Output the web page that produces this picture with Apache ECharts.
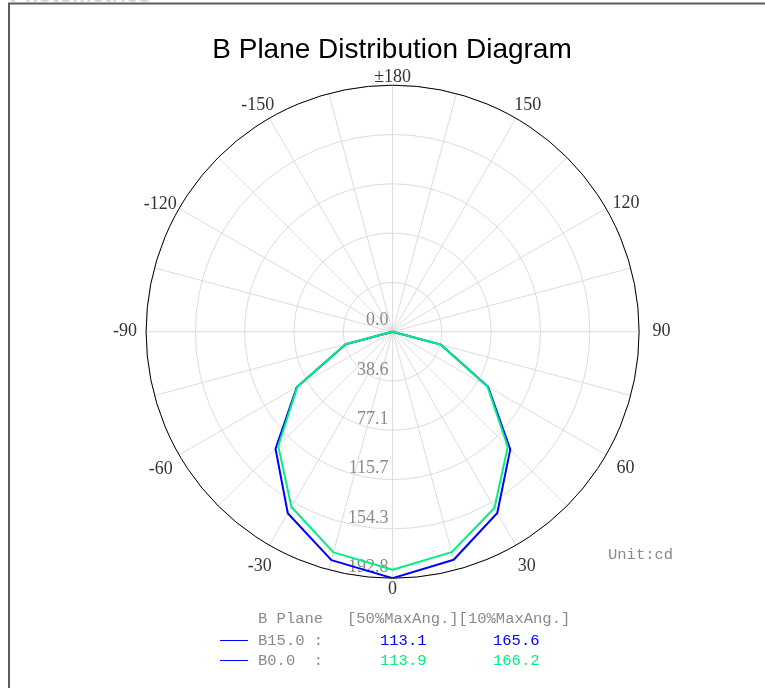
<!DOCTYPE html>
<html><head><meta charset="utf-8">
<script src="https://cdn.jsdelivr.net/npm/echarts@6/dist/echarts.min.js"></script>
<style>html,body{margin:0;padding:0;background:#fff;overflow:hidden}#c{width:765px;height:688px}</style>
</head><body><div id="c"></div>
<script>
// ---- data ----
const angles = [-90, -75, -60, -45, -30, -15, 0, 15, 30, 45, 60, 75, 90];
const seriesB15 = [0, 38.0, 86.4, 129.5, 164.0, 185.0, 192.8, 184.7, 163.8, 130.2, 86.2, 39.1, 0];
const seriesB0 = [0, 38.2, 86.0, 126.5, 158.3, 178.7, 186.2, 178.5, 159.3, 127.4, 85.7, 38.8, 0];
const seriesNames = ['B15.0', 'B0.0'];
const radiusTickLabels = ['0.0', '38.6', '77.1', '115.7', '154.3', '192.8'];
const radiusMax = 192.83;
const radiusStep = 38.566;
const angleTickValues = [0, 30, 60, 90, 120, 150, 180, 210, 240, 270, 300, 330];
const angleTickLabels = ['0', '30', '60', '90', '120', '150', '±180', '-150', '-120', '-90', '-60', '-30'];
const titleText = 'B Plane Distribution Diagram';
const unitText = 'Unit:cd';
const legendHeader = ['B Plane', '[50%MaxAng.][10%MaxAng.]'];
const legendNames = ['B15.0 :', 'B0.0  :'];
const legend50 = ['113.1', '113.9'];
const legend10 = ['165.6', '166.2'];

// ---- styles ----
const BLUE = '#0000ff';
const GREEN = '#00f080';
const GRID = '#dcdcdc';
const GRAYTXT = '#8a8a8a';
const MONO = 'Liberation Mono';
const SERIF = 'Liberation Serif';
// label nudges (padding [top, right, bottom, left]) for angle tick labels, same order as angleTickValues
const anglePads = [
  [24.6, 0, 0, 0], [42, 0, 0, 7], [18, 0, 0, 19], [0, 0, 0, 23.5], [0, 0, 3, 15], [0, 0, 24.8, 3.5],
  [0, 0, 17.4, 0], [0, 0, 24.8, 0], [0, 11, 1, 0], [0, 19, 0, 0], [20, 15, 0, 0], [42, 2.5, 0, 0]
];

const toAxisAngle = a => (a < 0 ? a + 360 : a);
const mk = vals => angles.map((a, i) => [vals[i], toAxisAngle(a)]);

const angleRich = {};
anglePads.forEach((p, i) => {
  angleRich['p' + i] = { padding: p, fontFamily: SERIF, fontSize: 18, color: '#333', lineHeight: 18 };
});

const chart = echarts.init(document.getElementById('c'));

const legendColors = [BLUE, GREEN];
const rowsY = [640.5, 660.5];
const graphics = [
  { type: 'rect', shape: { x: 9, y: 3.5, width: 900, height: 900 }, style: { fill: 'none', stroke: '#5c5c5c', lineWidth: 2 }, silent: true },
  { type: 'text', x: 10, y: 7, style: { text: 'Photometrics', font: 'bold 22px "Liberation Sans"', fill: '#d8d8d8', verticalAlign: 'bottom' } },
  { type: 'text', x: 608, y: 555, style: { text: unitText, font: '15.5px "' + MONO + '"', fill: GRAYTXT, verticalAlign: 'middle' } },
  { type: 'text', x: 258, y: 619, style: { text: legendHeader[0], font: '15.5px "' + MONO + '"', fill: GRAYTXT, verticalAlign: 'middle' } },
  { type: 'text', x: 347, y: 619, style: { text: legendHeader[1], font: '15.5px "' + MONO + '"', fill: GRAYTXT, verticalAlign: 'middle' } }
];
legendNames.forEach((n, i) => {
  graphics.push({ type: 'line', shape: { x1: 220, y1: rowsY[i], x2: 248, y2: rowsY[i] }, style: { stroke: BLUE, lineWidth: 1 } });
  graphics.push({ type: 'text', x: 258, y: rowsY[i], style: { text: n, font: '15.5px "' + MONO + '"', fill: GRAYTXT, verticalAlign: 'middle' } });
  graphics.push({ type: 'text', x: 380, y: rowsY[i], style: { text: legend50[i], font: '15.5px "' + MONO + '"', fill: legendColors[i], verticalAlign: 'middle' } });
  graphics.push({ type: 'text', x: 493, y: rowsY[i], style: { text: legend10[i], font: '15.5px "' + MONO + '"', fill: legendColors[i], verticalAlign: 'middle' } });
});

chart.setOption({
  animation: false,
  backgroundColor: '#fff',
  title: {
    text: titleText, left: 387, top: 31, textAlign: 'center',
    textStyle: { fontFamily: 'Liberation Sans', fontSize: 28, fontWeight: 'normal', color: '#000' }
  },
  polar: { center: [392.6, 331.7], radius: 246.5 },
  angleAxis: {
    type: 'value', min: 0, max: 360, interval: 15, startAngle: 270, clockwise: false,
    axisLine: { show: true, lineStyle: { color: '#000', width: 1 } },
    axisTick: { show: false },
    splitLine: { show: true, lineStyle: { color: GRID, width: 1 } },
    axisLabel: {
      margin: -10, fontFamily: SERIF, fontSize: 18, color: '#333', rich: angleRich,
      formatter: v => { const k = angleTickValues.indexOf(Math.round(v)); return k >= 0 ? '{p' + k + '|' + angleTickLabels[k] + '}' : ''; }
    }
  },
  radiusAxis: {
    type: 'value', min: 0, max: radiusMax, interval: radiusStep,
    axisLine: { show: false }, axisTick: { show: false },
    splitLine: { show: true, lineStyle: { color: GRID, width: 1 } },
    axisLabel: {
      fontFamily: SERIF, fontSize: 18, color: GRAYTXT, margin: -4,
      align: 'right', verticalAlign: 'bottom', padding: [0, 0, 2, 0],
      formatter: v => radiusTickLabels[Math.round(v / radiusStep)] || ''
    }
  },
  series: [
    { type: 'line', name: seriesNames[0], coordinateSystem: 'polar', data: mk(seriesB15), symbol: 'none', lineStyle: { color: BLUE, width: 2 }, z: 3 },
    { type: 'line', name: seriesNames[1], coordinateSystem: 'polar', data: mk(seriesB0), symbol: 'none', lineStyle: { color: GREEN, width: 2 }, z: 4 }
  ],
  graphic: graphics
});
</script></body></html>
